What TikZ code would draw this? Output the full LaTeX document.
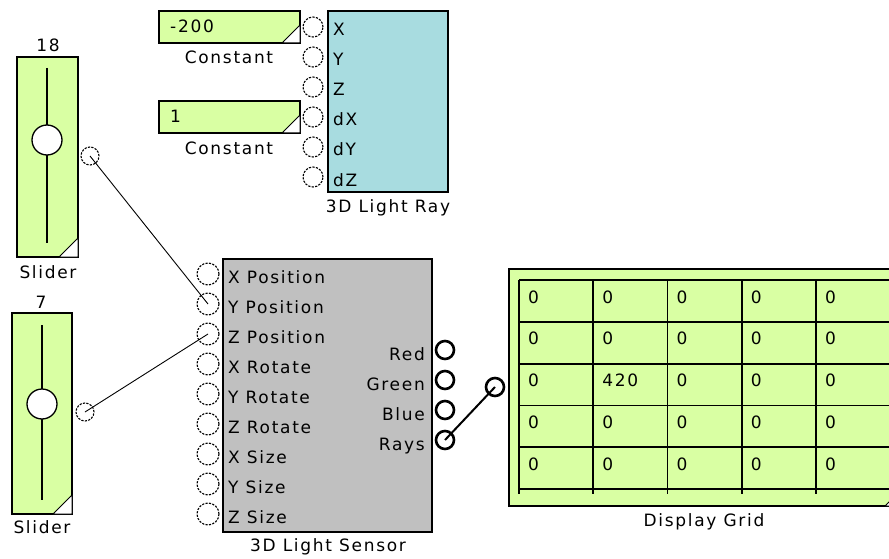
\documentclass[tikz,border=0pt]{standalone}
\usepackage{fontspec}
\usepackage{tikz}
\newfontfamily\blockfont[LetterSpace=10]{DejaVu Sans}
\definecolor{padgreen}{HTML}{D9FFA3}
\definecolor{raycyan}{HTML}{A8DCE0}
\definecolor{sensorgray}{HTML}{C0C0C0}

\begin{document}
\begin{tikzpicture}[x=1pt,y=-1pt,font=\blockfont\fontsize{17}{20}\selectfont]
    \tikzstyle{block}=[draw, line width=1.4pt, outer sep=0pt, inner sep=0pt]
    \tikzstyle{knob}=[circle, draw, fill=white, line width=1.3pt,
        minimum size=30pt, inner sep=0pt]
    \tikzstyle{dotport}=[circle, draw, fill=white, line width=1.1pt,
        dash pattern=on 2.2pt off 1.3pt, minimum size=20pt, inner sep=0pt]
    \tikzstyle{solidport}=[circle, draw, fill=white, line width=2.6pt,
        minimum size=18pt, inner sep=0pt]
    \tikzstyle{inlabel}=[anchor=base west, inner sep=0pt]
    \tikzstyle{outlabel}=[anchor=base east, inner sep=0pt]
    \tikzstyle{blockname}=[anchor=base, inner sep=0pt]
    \tikzstyle{corner}=[draw, fill=white, line width=1pt]
    \tikzstyle{wire}=[line width=0.9pt]

    \useasboundingbox (0,0) rectangle (889,559);
    \clip (0,0) rectangle (889,559);

    % Sliders
    \node[block, fill=padgreen, minimum width=61pt, minimum height=200pt] (sliderA) at (47.5,157) {};
    \draw[corner] (sliderA.south east) -- ++(-19,0) -- ++(19,-19) -- cycle;
    \draw[line width=1.8pt] (47,68) -- (47,243);
    \node[knob] (knobA) at (47,140) {};
    \node[blockname] (valueA) at (48,52) {18};
    \node[blockname] (nameA) at (48,278) {Slider};
    \node[dotport, minimum size=18pt] (sliderAout) at (90,156) {};

    \node[block, fill=padgreen, minimum width=60pt, minimum height=201pt] (sliderB) at (42,413.5) {};
    \draw[corner] (sliderB.south east) -- ++(-19,0) -- ++(19,-19) -- cycle;
    \draw[line width=1.8pt] (42,325) -- (42,500);
    \node[knob] (knobB) at (42,404) {};
    \node[blockname] (valueB) at (41,308) {7};
    \node[blockname] (nameB) at (42,533) {Slider};
    \node[dotport, minimum size=18pt] (sliderBout) at (85,412) {};

    % Constants
    \node[block, fill=padgreen, minimum width=141pt, minimum height=32pt] (constA) at (229.5,27) {};
    \draw[corner] (constA.south east) -- ++(-18,0) -- ++(18,-18) -- cycle;
    \node[inlabel] (constAvalue) at (170,33) {-200};
    \node[blockname] (constAname) at (229,64) {Constant};

    \node[block, fill=padgreen, minimum width=141pt, minimum height=32pt] (constB) at (229.5,117) {};
    \draw[corner] (constB.south east) -- ++(-18,0) -- ++(18,-18) -- cycle;
    \node[inlabel] (constBvalue) at (170,123) {1};
    \node[blockname] (constBname) at (229,154) {Constant};

    % 3D Light Ray
    \node[block, fill=raycyan, minimum width=120pt, minimum height=181pt] (ray) at (388,101.5) {};
    \foreach \name [count=\i from 0] in {X,Y,Z,dX,dY,dZ}{
        \node[dotport] (ray-\name) at (313,{27+30*\i}) {};
        \node[inlabel] (ray-\name-text) at (333,{36+30*\i}) {\name};
    }
    \node[blockname] (rayname) at (388,212) {3D Light Ray};

    % 3D Light Sensor
    \node[block, fill=sensorgray, minimum width=209pt, minimum height=273pt] (sensor) at (327.5,395.5) {};
    \foreach \name [count=\i from 0] in {X Position,Y Position,Z Position,
        X Rotate,Y Rotate,Z Rotate,X Size,Y Size,Z Size}{
        \node[dotport, minimum size=22pt] (sensor-in-\i) at (208,{274+30*\i}) {};
        \node[inlabel] (sensor-in-\i-text) at (228,{283+30*\i}) {\name};
    }
    \foreach \name [count=\i from 0] in {Red,Green,Blue,Rays}{
        \node[solidport] (sensor-out-\i) at (445,{350+30*\i}) {};
        \node[outlabel] (sensor-out-\i-text) at (425,{360+30*\i}) {\name};
    }
    \node[blockname] (sensorname) at (328,551) {3D Light Sensor};

    % Display Grid
    \node[block, fill=padgreen, minimum width=394pt, minimum height=237pt] (grid) at (706,387.5) {};
    \draw[corner] (grid.south east) -- ++(-18,0) -- ++(18,-18) -- cycle;
    \foreach \k in {0,...,5}{
        \draw[line width=1.8pt] (519,{280+41.8*\k}) -- (900,{280+41.8*\k});
        \draw[line width=1.8pt] ({519+74.2*\k},280) -- ({519+74.2*\k},494);
    }
    \foreach \row [count=\r from 0] in {{0,0,0,0,0},{0,0,0,0,0},{0,420,0,0,0},
        {0,0,0,0,0},{0,0,0,0,0}}{
        \foreach \val [count=\c from 0] in \row{
            \node[inlabel] (cell-\r-\c) at ({528+74.2*\c},{303+41.8*\r}) {\val};
        }
    }
    \node[solidport] (gridin) at (495,387) {};
    \node[blockname] (gridname) at (704,526) {Display Grid};

    % Wires
    \draw[wire] (sliderAout.center) -- (sensor-in-1.center);
    \draw[wire] (sliderBout.center) -- (sensor-in-2.center);
    \draw[line width=2pt] (sensor-out-3.center) -- (gridin.center);
\end{tikzpicture}
\end{document}
